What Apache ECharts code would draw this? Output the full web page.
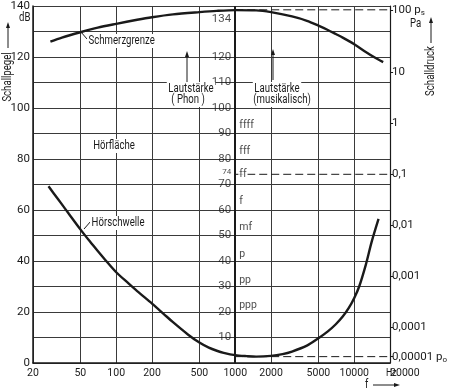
<!DOCTYPE html>
<html><head><meta charset="utf-8">
<script src="https://cdn.jsdelivr.net/npm/echarts@6/dist/echarts.min.js"></script>
<style>html,body{margin:0;padding:0;background:#fff}#c{width:450px;height:392px}</style>
</head><body><div id="c"></div>
<script>
// ---- data ----
const freqTicks = [20, 50, 100, 200, 500, 1000, 2000, 5000, 10000, 20000];
const painFreq  = [28, 35, 50, 70, 100, 150, 200, 300, 500, 700, 1000, 1500, 2000, 3000, 4000, 5000, 6000, 7000, 8000, 10000, 12500, 15000, 17500];
const painLevel = [126, 127.6, 129.7, 131.5, 133, 134.6, 135.6, 136.7, 137.6, 138.1, 138.4, 138.3, 137.6, 135.9, 134.2, 132.3, 130.6, 129, 127.6, 125, 122, 119.7, 118];
const thrFreq  = [27, 30, 35, 40, 50, 60, 70, 80, 100, 125, 150, 200, 250, 300, 400, 500, 600, 700, 800, 1000, 1250, 1500, 2000, 2500, 3000, 4000, 5000, 6000, 7000, 8000, 9000, 10000, 11000, 12500, 14000, 16000];
const thrLevel = [69.3, 66.4, 62.2, 58.5, 52.4, 47.7, 43.9, 40.7, 35.6, 31.5, 28.2, 23.3, 19.3, 16.0, 11.2, 8.0, 6.0, 4.8, 4.0, 3.1, 2.7, 2.5, 2.8, 3.5, 4.5, 6.8, 9.7, 12.4, 15.2, 18.2, 21.6, 25.5, 30, 38.5, 47.5, 56.5];
const refLevels = [138.5, 74, 2.5];
const refFreqRange = [1000, 20000];
const centerFreq = 1000;
const centerText   = ['134', '120', '110', '100', '90', '80', '74', '70', '60', '50', '40', '30', '20', '10'];
const centerLevels = [135, 120, 110, 100, 90, 80, 75, 70, 60, 50, 40, 30, 20, 10];
const dynNames  = ['ffff', 'fff', 'ff', 'f', 'mf', 'p', 'pp', 'ppp'];
const dynLevels = [93, 83, 74, 63.5, 53, 42.5, 32.5, 22.5];
const pressureText   = ['100 {p|p}{sub|s}', '10', '1', '0,1', '0,01', '0,001', '0,0001', '0,00001 {p|p}{sub|o}'];
const pressureLevels = [138.5, 114, 94, 74, 54, 34, 14, 2.5];

// ---- style ----
const FONT = 'Roboto, "Liberation Sans", sans-serif';
const INK = '#1a1a1a';
const GRID = '#3a3a3a';
const FS = 11.5;
const FSX = 10.5;

const chart = echarts.init(document.getElementById('c'), null, {renderer: 'canvas'});

function zip(a, b) { return a.map((v, i) => [v, b[i]]); }

function txt(text, x, y, opts) {
  opts = opts || {};
  const el = {
    type: 'text', x: x, y: y, z: 100,
    scaleX: opts.scaleX !== undefined ? opts.scaleX : 0.8,
    style: Object.assign({text: text, fontFamily: FONT, fontSize: 12, fill: INK,
      textAlign: 'left', textVerticalAlign: 'middle'}, opts.style || {})
  };
  if (opts.rotation !== undefined) el.rotation = opts.rotation;
  return el;
}
function vArrowUp(x, yHead, yTail) {
  return [
    {type: 'line', z: 100, shape: {x1: x, y1: yHead + 5, x2: x, y2: yTail}, style: {stroke: INK, lineWidth: 1}},
    {type: 'polygon', z: 100, shape: {points: [[x, yHead], [x - 2, yHead + 6], [x + 2, yHead + 6]]}, style: {fill: INK}}
  ];
}
function hArrowRight(y, xTail, xHead) {
  return [
    {type: 'line', z: 100, shape: {x1: xTail, y1: y, x2: xHead - 5, y2: y}, style: {stroke: INK, lineWidth: 1}},
    {type: 'polygon', z: 100, shape: {points: [[xHead, y], [xHead - 6, y - 2], [xHead - 6, y + 2]]}, style: {fill: INK}}
  ];
}
function leader(x1, y1, x2, y2) {
  return {type: 'line', z: 100, shape: {x1: x1, y1: y1, x2: x2, y2: y2}, style: {stroke: INK, lineWidth: 1}};
}
const whiteBg = {backgroundColor: '#fff', padding: [1, 2]};
const centered = Object.assign({textAlign: 'center'}, whiteBg);

const series = [
  {
    name: 'Schmerzgrenze', type: 'line', data: zip(painFreq, painLevel), smooth: 0.3,
    symbol: 'none', lineStyle: {color: INK, width: 2.4}, z: 5,
    markLine: {
      silent: true, symbol: 'none', label: {show: false},
      lineStyle: {color: INK, width: 2, type: 'solid'},
      data: [{xAxis: centerFreq}]
    }
  },
  {
    name: 'Hörschwelle', type: 'line', data: zip(thrFreq, thrLevel), smooth: 0.3,
    symbol: 'none', lineStyle: {color: INK, width: 2.4}, z: 5
  }
].concat(refLevels.map(l => ({
  type: 'line', data: refFreqRange.map(f => [f, l]), symbol: 'none',
  lineStyle: {color: INK, width: 1, type: [8, 4]}, z: 4
}))).concat([
  {
    type: 'scatter', symbolSize: 0, z: 6,
    data: centerLevels.map((v, i) => ({
      value: [centerFreq, v],
      label: centerText[i] === '74' ? {fontSize: 8} : {}
    })),
    label: {show: true, position: 'left', distance: 4, fontFamily: FONT, fontSize: FS, color: INK,
      formatter: p => centerText[p.dataIndex]}
  },
  {
    type: 'scatter', symbolSize: 0, z: 6,
    data: dynLevels.map(v => [centerFreq, v]),
    label: {show: true, position: 'right', distance: 3, fontFamily: FONT, fontSize: 10.5, color: INK,
      backgroundColor: '#fff', padding: [0, 1],
      formatter: p => dynNames[p.dataIndex]}
  }
]);

const option = {
  animation: false,
  backgroundColor: '#fff',
  grid: {left: 33, right: 46, top: 5, bottom: 29, containLabel: false},
  xAxis: {
    type: 'log', logBase: 10, min: 20, max: 20000,
    axisLine: {show: true, lineStyle: {color: INK, width: 1.5}},
    axisTick: {show: false, customValues: freqTicks},
    axisLabel: {customValues: freqTicks, margin: 5, fontFamily: FONT, fontSize: FSX, color: INK,
      hideOverlap: false, alignMinLabel: 'center', alignMaxLabel: 'left',
      formatter: v => String(v)},
    splitLine: {show: true, lineStyle: {color: GRID, width: 1}},
    minorTick: {show: false}, minorSplitLine: {show: false}
  },
  yAxis: [
    {
      type: 'value', min: 0, max: 140, interval: 10, position: 'left',
      axisLine: {show: true, lineStyle: {color: INK, width: 1.5}},
      axisTick: {show: false},
      axisLabel: {margin: 3, fontFamily: FONT, fontSize: FS, color: INK,
        formatter: v => (v % 20 === 0 ? String(v) : '')},
      splitLine: {show: true, lineStyle: {color: GRID, width: 1}}
    },
    {
      type: 'value', min: 0, max: 140, position: 'right',
      axisLine: {show: true, lineStyle: {color: INK, width: 1.2}},
      axisTick: {show: true, inside: false, length: 3, customValues: pressureLevels, lineStyle: {color: INK}},
      axisLabel: {customValues: pressureLevels, margin: 2, fontFamily: FONT, fontSize: FS, color: INK,
        formatter: v => { const i = pressureLevels.indexOf(v); return i >= 0 ? pressureText[i] : ''; },
        rich: {
          p: {fontFamily: FONT, fontSize: FS, color: INK},
          sub: {fontFamily: FONT, fontSize: 8, color: INK, padding: [7, 0, 0, 0]}
        }},
      splitLine: {show: false}
    }
  ],
  series: series,
  graphic: [].concat(
    [txt('dB', 19, 18, {})],
    vArrowUp(8, 22, 48),
    [txt('Schallpegel', 8, 77, {rotation: Math.PI / 2, style: {textAlign: 'center'}})],
    [txt('Pa', 410, 24, {})],
    vArrowUp(431, 17, 43),
    [txt('Schalldruck', 431, 71, {rotation: Math.PI / 2, style: {textAlign: 'center'}})],
    [txt('Hz', 386, 373, {style: {fontSize: 11}})],
    [txt('f', 365, 385, {})],
    hArrowRight(385, 373, 400),
    [leader(81, 32, 87, 39), txt('Schmerzgrenze', 87, 41, {style: whiteBg})],
    [txt('Hörfläche', 114, 146, {style: centered})],
    [leader(84, 229, 91, 221), txt('Hörschwelle', 90, 223, {style: whiteBg})],
    vArrowUp(187, 51, 82),
    [txt('Lautstärke', 191, 89, {style: centered}),
     txt('( Phon )', 188, 100, {style: centered})],
    vArrowUp(273, 49, 80),
    [txt('Lautstärke', 277, 89, {style: centered}),
     txt('(musikalisch)', 282, 100, {style: centered})]
  )
};
chart.setOption(option);
</script>
</body></html>
